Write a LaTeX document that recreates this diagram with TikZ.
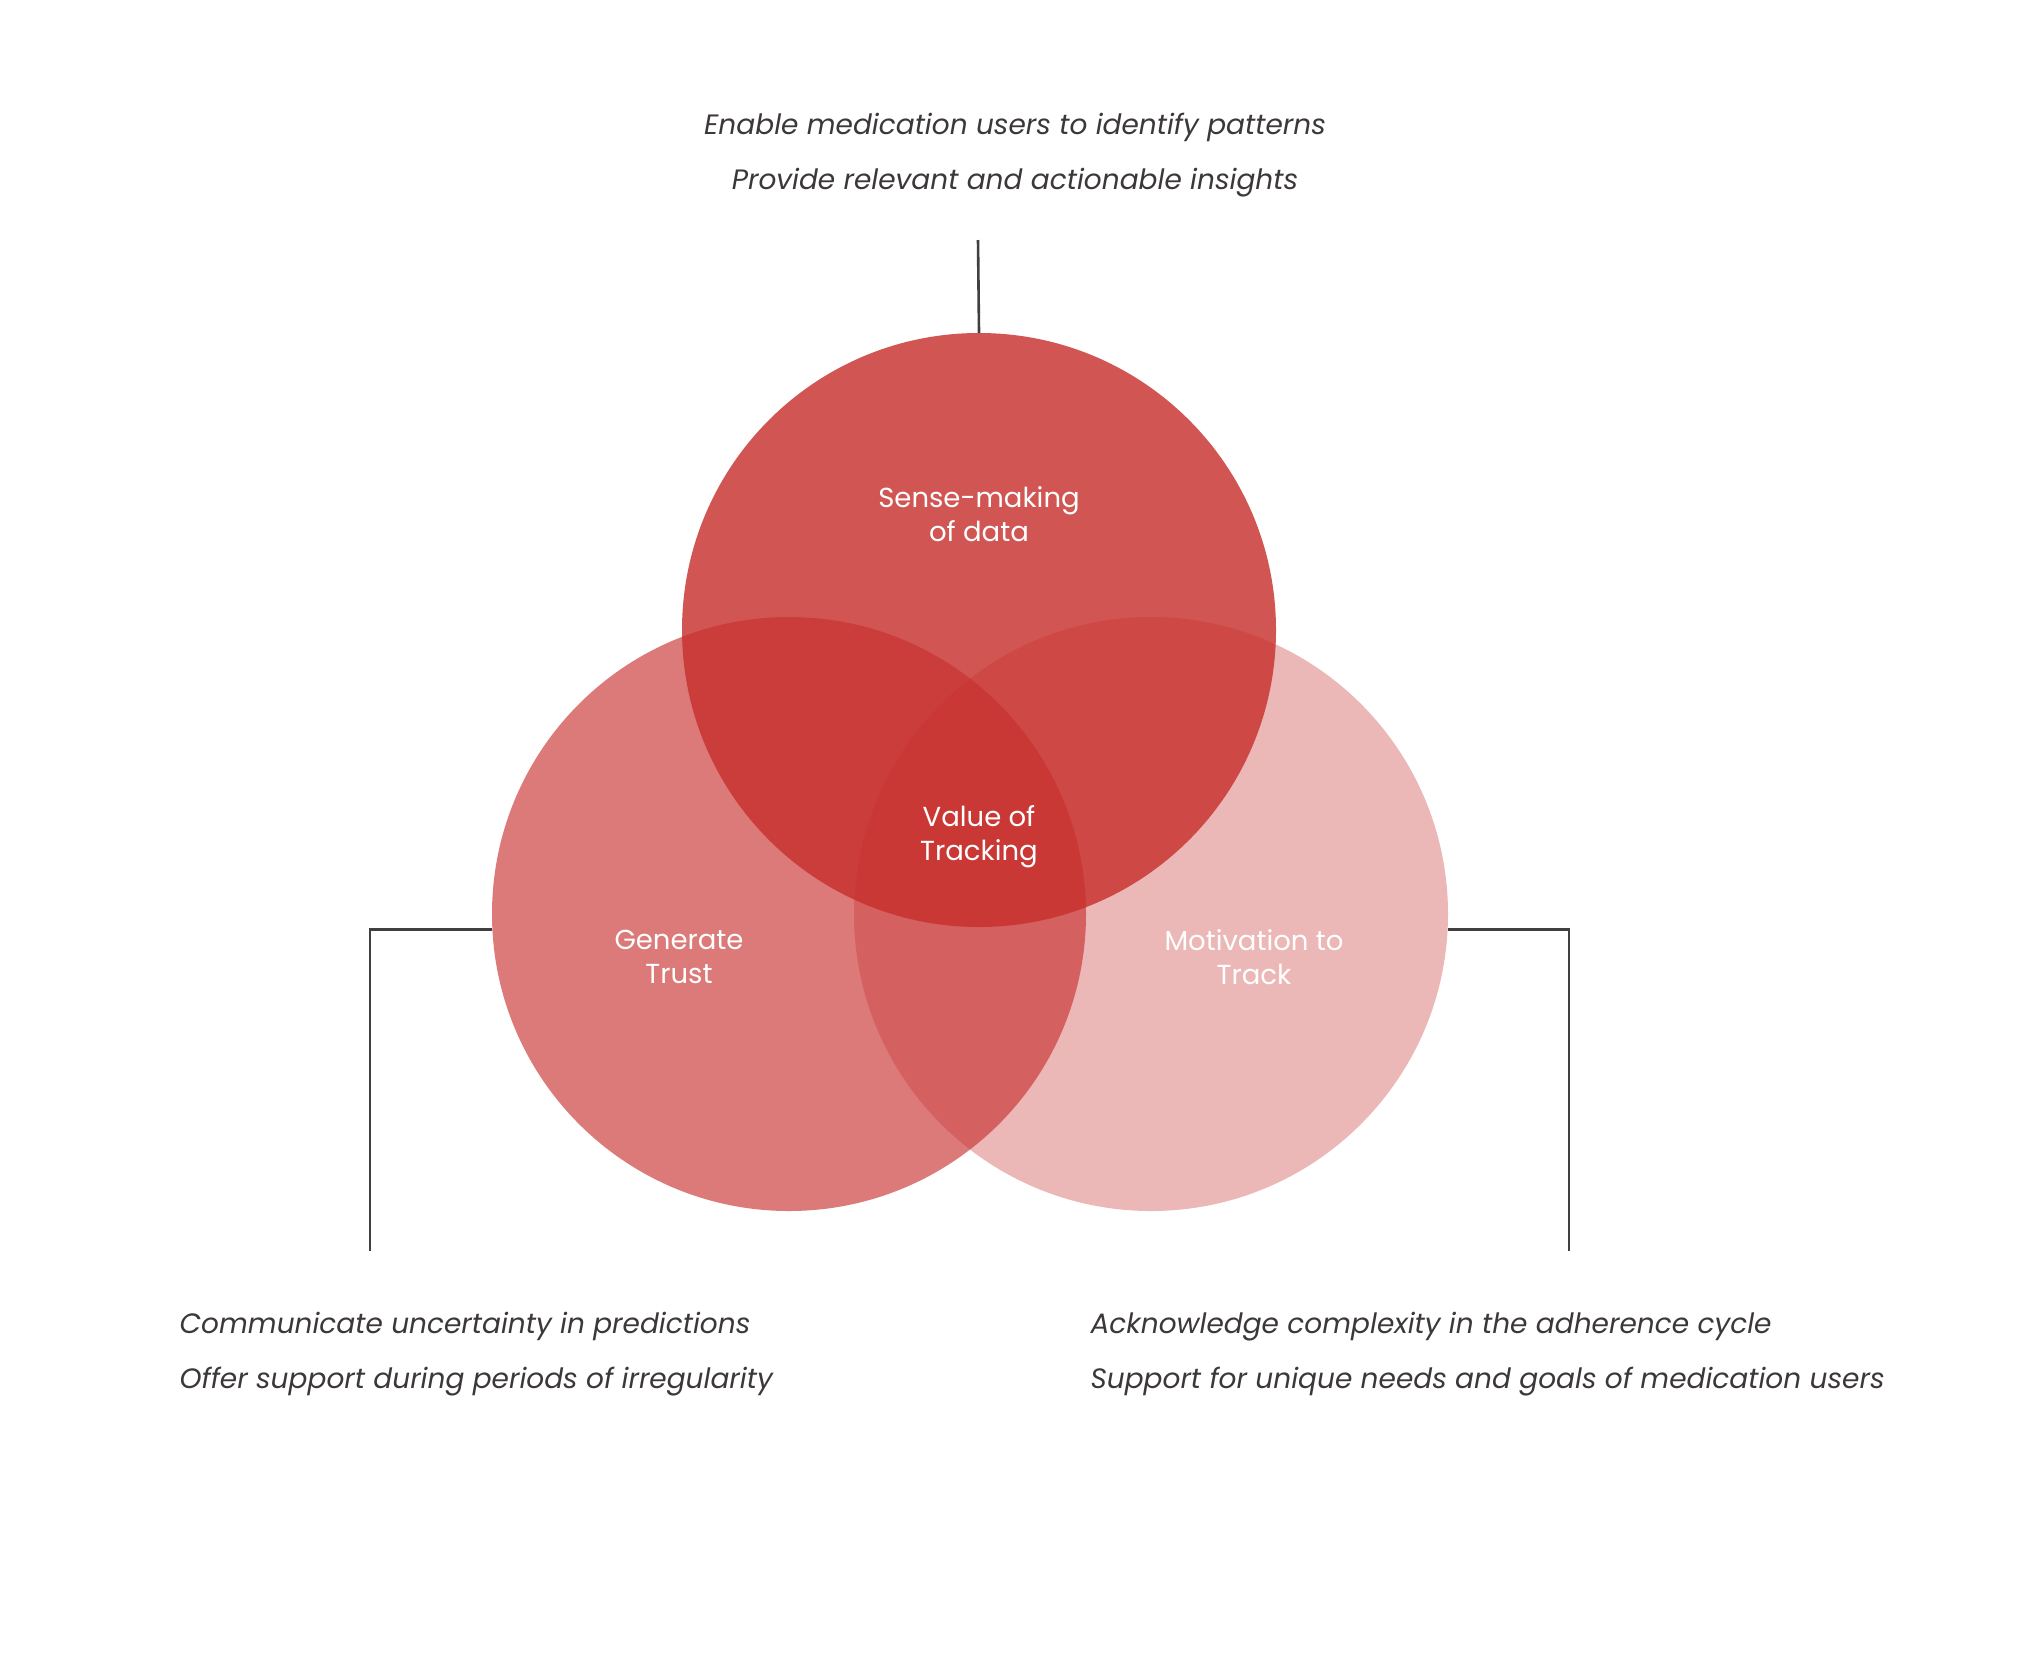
\documentclass[tikz,border=0pt]{standalone}
\usepackage{fontspec}
\setmainfont{Poppins}
\definecolor{vred}{RGB}{200,48,46}
\definecolor{txt}{RGB}{60,56,56}
\definecolor{ln}{RGB}{64,64,64}
\begin{document}
\begin{tikzpicture}[x=1pt,y=-1pt,
  venn/.style={circle, minimum size=594pt, inner sep=0pt, fill=vred},
  lab/.style={text=white, font=\fontsize{27.5}{34}\selectfont, align=center},
  note/.style={text=txt, font=\fontsize{28}{34}\selectfont\itshape},
  conn/.style={draw=ln, line width=2.6pt}]
\fill[white] (0,0) rectangle (2044,1676);
\useasboundingbox (0,0) rectangle (2044,1676);

\node[venn, fill opacity=0.64] (gen) at (789,914) {};
\node[venn, fill opacity=0.34] (mot) at (1151,914) {};
\node[venn, fill opacity=0.82] (sen) at (979,630) {};

\node[lab] (lsen) at (979,514) {Sense-making\\of data};
\node[lab] (lval) at (979,837) {Value of\\Tracking};
\node[lab] (lgen) at (679,957) {Generate\\Trust};
\node[lab] (lmot) at (1254,957) {Motivation to\\Track};

\node[note, anchor=base] (t1) at (1015,134) {Enable medication users to identify patterns};
\node[note, anchor=base] (t2) at (1015,189) {Provide relevant and actionable insights};
\node[note, anchor=base west] (l1) at (176,1333) {Communicate uncertainty in predictions};
\node[note, anchor=base west] (l2) at (176,1388) {Offer support during periods of irregularity};
\node[note, anchor=base west] (r1) at (1087,1333) {Acknowledge complexity in the adherence cycle};
\node[note, anchor=base west] (r2) at (1087,1388) {Support for unique needs and goals of medication users};

\coordinate (ct) at (978,240);
\coordinate (cl) at (370,1251);
\coordinate (cr) at (1569,1251);
\draw[conn] (sen.north) -- (ct);
\draw[conn] (gen.183) -| (cl);
\draw[conn] (mot.-3) -| (cr);
\end{tikzpicture}
\end{document}
